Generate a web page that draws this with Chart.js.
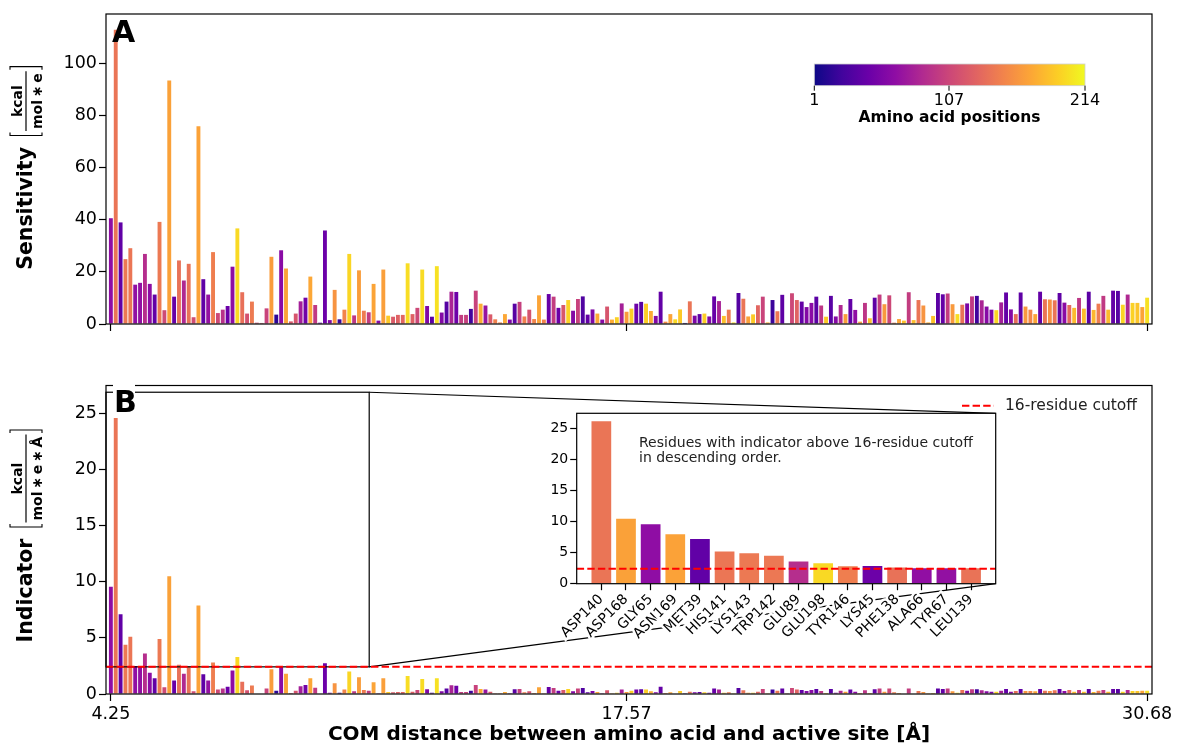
<!DOCTYPE html>
<html>
<head>
<meta charset="utf-8">
<script src="https://cdn.jsdelivr.net/npm/chart.js@4.4.1/dist/chart.umd.min.js"></script>
<style>
  body { margin: 0; background: #fff; }
  #wrap { position: relative; width: 1177px; height: 744px; overflow: hidden; }
  canvas { position: absolute; }
</style>
</head>
<body>
<div id="wrap">
  <canvas id="chartA" width="1177" height="360" style="left:0;top:0"></canvas>
  <canvas id="chartB" width="1177" height="384" style="left:0;top:360px"></canvas>
  <canvas id="chartInset" width="480" height="250" style="left:520px;top:405px"></canvas>
</div>
<script>
// x axis: residues sorted by COM distance, only three distances are labelled
const xTickIdx = [0, 106, 213];
const xTickLabels = ["4.25", "17.57", "30.68"];
const yTicksA = [0, 20, 40, 60, 80, 100];
const yTicksB = [0, 5, 10, 15, 20, 25];
const cutoff = 2.42;

// amino acid position of each bar (drives the colour)
const positions = [
  65, 140, 39, 142, 141, 66, 67, 89, 63, 40,
  143, 110, 168, 42, 138, 85, 139, 112, 169, 38,
  68, 146, 108, 92, 44, 64, 198, 137, 115, 144,
  110, 120, 105, 165, 14, 62, 170, 120, 118, 78,
  48, 172, 98, 40, 45, 58, 160, 20, 150, 196,
  96, 166, 145, 100, 170, 60, 167, 190, 122, 127,
  130, 200, 126, 108, 199, 56, 36, 202, 58, 33,
  82, 46, 100, 102, 22, 104, 175, 70, 122, 148,
  150, 172, 55, 34, 102, 147, 116, 150, 170, 150,
  42, 100, 44, 120, 195, 58, 104, 30, 40, 55,
  172, 60, 118, 174, 194, 78, 165, 192, 45, 34,
  192, 175, 58, 40, 155, 170, 198, 190, 12, 140,
  54, 38, 192, 56, 42, 80, 186, 145, 200, 32,
  140, 168, 190, 130, 105, 175, 20, 142, 38, 120,
  108, 128, 40, 58, 62, 36, 96, 190, 35, 60,
  85, 166, 40, 65, 165, 95, 185, 38, 100, 163,
  108, 146, 170, 186, 100, 184, 140, 160, 175, 186,
  36, 40, 100, 164, 200, 138, 52, 98, 22, 82,
  60, 54, 196, 78, 40, 60, 136, 38, 162, 152,
  170, 40, 140, 158, 140, 38, 62, 132, 182, 95,
  184, 36, 180, 145, 98, 182, 40, 34, 196, 85,
  194, 188, 170, 202
];

// panel A: sensitivity [kcal/(mol*e)]
const sensitivity = [
  40.6, 113, 39, 24.9, 29.1, 15.1, 15.8, 26.9, 15.4, 11.3,
  39.2, 5.3, 93.5, 10.5, 24.4, 16.7, 23.1, 2.6, 75.9, 17.2,
  11.3, 27.6, 4.2, 5.5, 6.9, 22, 36.7, 12.2, 4, 8.6,
  0.5, 0.4, 6, 25.8, 3.6, 28.3, 21.3, 1, 4, 8.7,
  10.1, 18.2, 7.3, 0.5, 35.9, 1.5, 13.1, 1.8, 5.5, 26.9,
  3.3, 20.6, 5.1, 4.5, 15.4, 1.3, 20.9, 3.2, 2.8, 3.5,
  3.5, 23.3, 3.8, 6.2, 20.9, 6.9, 2.8, 22.2, 4.4, 8.6,
  12.4, 12.3, 3.5, 3.5, 5.8, 12.8, 7.8, 7.1, 3.7, 1.8,
  0.6, 3.8, 1.7, 7.8, 8.5, 2.9, 5.5, 1.9, 11, 1.7,
  11.5, 10.5, 6.2, 7.3, 9.2, 5.1, 9.6, 10.6, 3.6, 5.6,
  4, 1.7, 6.7, 1.7, 2.6, 7.9, 4.7, 5.9, 7.8, 8.5,
  7.8, 5, 3.1, 12.4, 0.9, 3.8, 1.8, 5.6, 0.4, 8.7,
  3.2, 3.8, 4, 2.9, 10.6, 8.8, 3.1, 5.5, 0.6, 11.9,
  9.7, 2.9, 3.7, 7.2, 10.5, 0.6, 9.2, 4.9, 11.2, 0.2,
  11.8, 9.2, 8.6, 6.5, 8.1, 10.5, 7.1, 2.8, 10.8, 2.9,
  7.3, 3.8, 9.6, 5.4, 0.9, 8.1, 2.2, 10.1, 11.3, 7.6,
  11, 0.5, 1.9, 1.3, 12.2, 1.5, 9.2, 7.1, 0.6, 3.1,
  11.9, 11.4, 11.7, 7.6, 3.8, 7.4, 7.9, 10.6, 10.8, 9.1,
  6.7, 5.5, 5.3, 8.3, 12.1, 5.6, 3.8, 12.1, 6.7, 5.5,
  3.8, 12.4, 9.5, 9.4, 9.1, 11.9, 8.2, 7.3, 6.2, 10,
  5.9, 12.4, 5.4, 7.8, 10.8, 5.5, 12.8, 12.7, 7.4, 11.3,
  8.1, 8.1, 6.5, 10.1
];

// panel B: indicator [kcal/(mol*e*Å)]
const indicator = [
  9.55, 24.6, 7.1, 4.4, 5.1, 2.5, 2.5, 3.6, 1.9, 1.4,
  4.9, 0.6, 10.5, 1.2, 2.6, 1.8, 2.5, 0.25, 7.9, 1.75,
  1.2, 2.8, 0.4, 0.5, 0.65, 2.1, 3.3, 1.1, 0.33, 0.75,
  0.05, 0.04, 0.5, 2.2, 0.3, 2.4, 1.8, 0.1, 0.3, 0.7,
  0.8, 1.4, 0.55, 0.05, 2.75, 0.12, 0.95, 0.12, 0.4, 2.0,
  0.24, 1.5, 0.36, 0.3, 1.04, 0.06, 1.4, 0.18, 0.15, 0.18,
  0.18, 1.6, 0.2, 0.36, 1.34, 0.42, 0.12, 1.4, 0.24, 0.5,
  0.77, 0.74, 0.18, 0.18, 0.3, 0.8, 0.45, 0.39, 0.2, 0.06,
  0.02, 0.18, 0.06, 0.42, 0.45, 0.15, 0.24, 0.09, 0.6, 0.06,
  0.62, 0.54, 0.3, 0.36, 0.45, 0.24, 0.48, 0.54, 0.15, 0.27,
  0.18, 0.06, 0.33, 0.06, 0.12, 0.39, 0.18, 0.28, 0.39, 0.42,
  0.39, 0.24, 0.15, 0.65, 0.09, 0.15, 0.05, 0.27, 0.02, 0.21,
  0.15, 0.18, 0.15, 0.12, 0.5, 0.39, 0.12, 0.15, 0.03, 0.54,
  0.33, 0.12, 0.12, 0.21, 0.45, 0.03, 0.39, 0.3, 0.48, 0.02,
  0.54, 0.39, 0.36, 0.27, 0.36, 0.45, 0.27, 0.09, 0.45, 0.12,
  0.3, 0.21, 0.39, 0.21, 0.1, 0.33, 0.09, 0.42, 0.48, 0.21,
  0.48, 0.15, 0.08, 0.05, 0.5, 0.05, 0.27, 0.18, 0.02, 0.09,
  0.48, 0.45, 0.48, 0.24, 0.12, 0.36, 0.3, 0.42, 0.42, 0.33,
  0.24, 0.21, 0.21, 0.3, 0.45, 0.21, 0.27, 0.45, 0.27, 0.27,
  0.24, 0.45, 0.3, 0.27, 0.33, 0.45, 0.27, 0.36, 0.21, 0.36,
  0.21, 0.45, 0.18, 0.3, 0.36, 0.21, 0.45, 0.45, 0.21, 0.36,
  0.27, 0.27, 0.3, 0.3
];

// inset: residues above the cutoff, descending
const insetResidues = ["ASP140", "ASP168", "GLY65", "ASN169", "MET39", "HIS141", "LYS143", "TRP142",
  "GLU89", "GLU198", "TYR146", "LYS45", "PHE138", "ALA66", "TYR67", "LEU139"];
const insetValues = [26.2, 10.5, 9.6, 8.0, 7.2, 5.2, 4.9, 4.5, 3.6, 3.3, 2.8, 2.85, 2.6, 2.5, 2.5, 2.5];
const insetPositions = [140, 168, 65, 169, 39, 141, 143, 142, 89, 198, 146, 45, 138, 66, 67, 139];
const insetTicks = [0, 5, 10, 15, 20, 25];

// plasma colormap
const plasmaStops = ["#0d0887", "#41049d", "#6a00a8", "#8f0da4", "#b12a90", "#cc4778",
  "#e16462", "#f2844b", "#fca636", "#fcce25", "#f0f921"];
function hexRgb(h) {
  return [parseInt(h.slice(1, 3), 16), parseInt(h.slice(3, 5), 16), parseInt(h.slice(5, 7), 16)];
}
function plasma(t) {
  t = Math.min(1, Math.max(0, t));
  const s = t * 10, i = Math.min(9, Math.floor(s)), f = s - i;
  const a = hexRgb(plasmaStops[i]), b = hexRgb(plasmaStops[i + 1]);
  const c = a.map((v, k) => Math.round(v + (b[k] - v) * f));
  return `rgb(${c[0]},${c[1]},${c[2]})`;
}
const posColor = p => plasma((p - 1) / 213);

const FONT = "'DejaVu Sans', sans-serif";
Chart.defaults.font.family = FONT;
Chart.defaults.color = "#000";
Chart.defaults.animation = false;

function axisX(showLabels, height) {
  return {
    type: "linear", min: -1, max: 214, offset: false,
    afterBuildTicks: s => { s.ticks = xTickIdx.map(v => ({ value: v })); },
    afterFit: s => { s.height = height; s.paddingLeft = 0; s.paddingRight = 0; },
    grid: { drawOnChartArea: false, offset: false, tickLength: 7, tickWidth: 1.2, tickColor: "#000" },
    border: { display: false },
    ticks: {
      autoSkip: false, maxRotation: 0, padding: 3, font: { size: 17.5 },
      callback: v => showLabels ? xTickLabels[xTickIdx.indexOf(v)] : ""
    }
  };
}

function axisY(max, ticks, width, size, tickLen) {
  return {
    min: 0, max: max,
    afterBuildTicks: s => { s.ticks = ticks.map(v => ({ value: v })); },
    afterFit: s => { s.width = width; s.paddingTop = 0; s.paddingBottom = 0; },
    grid: { drawOnChartArea: false, tickLength: tickLen, tickWidth: 1.2, tickColor: "#000" },
    border: { display: false },
    ticks: { padding: 2, font: { size: size } }
  };
}

function drawSpines(ctx, a) {
  ctx.save();
  ctx.strokeStyle = "#000";
  ctx.lineWidth = 1.2;
  ctx.strokeRect(a.left, a.top, a.right - a.left, a.bottom - a.top);
  ctx.restore();
}

// rotated y label: bold word followed by [num / den]
function drawYLabel(ctx, cx, cy, word, num, den) {
  ctx.save();
  ctx.translate(cx, cy);
  ctx.rotate(-Math.PI / 2);
  ctx.fillStyle = "#000";
  ctx.strokeStyle = "#000";
  ctx.font = "bold 20.5px " + FONT;
  const ww = ctx.measureText(word).width;
  ctx.font = "bold 14px " + FONT;
  const fw = Math.max(ctx.measureText(num).width, ctx.measureText(den).width) + 4;
  const gap = 11, bw = 5;
  const total = ww + gap + bw + fw + bw;
  let x = -total / 2;
  ctx.font = "bold 20.5px " + FONT;
  ctx.textBaseline = "alphabetic";
  ctx.fillText(word, x, 0);
  x += ww + gap;
  const yTop = -22, yBot = 10;
  ctx.lineWidth = 1.1;
  ctx.beginPath();
  ctx.moveTo(x + 3.5, yTop); ctx.lineTo(x + 0.5, yTop); ctx.lineTo(x + 0.5, yBot); ctx.lineTo(x + 3.5, yBot);
  const xr = x + bw + fw + bw;
  ctx.moveTo(xr - 3.5, yTop); ctx.lineTo(xr - 0.5, yTop); ctx.lineTo(xr - 0.5, yBot); ctx.lineTo(xr - 3.5, yBot);
  ctx.stroke();
  const fc = x + bw + fw / 2;
  ctx.lineWidth = 1.2;
  ctx.beginPath();
  ctx.moveTo(x + bw, -6); ctx.lineTo(x + bw + fw, -6);
  ctx.stroke();
  ctx.font = "bold 14px " + FONT;
  ctx.textAlign = "center";
  ctx.fillText(num, fc, -10);
  ctx.fillText(den, fc, 9.5);
  ctx.restore();
}

function barData(values) {
  return values.map((v, i) => ({ x: i, y: v }));
}

// ---------- inset ----------
const insetChart = new Chart(document.getElementById("chartInset"), {
  type: "bar",
  data: {
    datasets: [{
      data: insetValues.map((v, i) => ({ x: i, y: v })),
      backgroundColor: insetPositions.map(posColor),
      barPercentage: 0.8, categoryPercentage: 1.0, borderWidth: 0
    }]
  },
  options: {
    responsive: false,
    layout: { padding: { left: 0, top: 8.3, right: 4.3, bottom: 0 } },
    plugins: { legend: { display: false }, tooltip: { enabled: false } },
    scales: {
      x: {
        type: "linear", min: -1, max: 16, offset: false,
        afterBuildTicks: s => { s.ticks = insetResidues.map((r, i) => ({ value: i })); },
        afterFit: s => { s.height = 71.3; s.paddingLeft = 0; s.paddingRight = 0; },
        grid: { drawOnChartArea: false, offset: false, tickLength: 6.5, tickWidth: 1.2, tickColor: "#000" },
        border: { display: false },
        ticks: {
          autoSkip: false, minRotation: 45, maxRotation: 45, padding: 1, font: { size: 14 },
          textStrokeColor: "#fff", textStrokeWidth: 5,
          callback: v => insetResidues[v]
        }
      },
      y: axisY(27.5, insetTicks, 56.7, 14, 6.5)
    }
  },
  plugins: [{
    id: "insetDecor",
    beforeDraw(chart) {
      const { ctx, chartArea: a } = chart;
      ctx.save();
      ctx.fillStyle = "#fff";
      ctx.fillRect(a.left, a.top, a.right - a.left, a.bottom - a.top);
      ctx.restore();
    },
    afterDraw(chart) {
      const { ctx, chartArea: a } = chart;
      const yc = chart.scales.y.getPixelForValue(cutoff);
      ctx.save();
      ctx.strokeStyle = "#ff0000";
      ctx.lineWidth = 2;
      ctx.setLineDash([7.4, 3.2]);
      ctx.beginPath(); ctx.moveTo(a.left, yc); ctx.lineTo(a.right, yc); ctx.stroke();
      ctx.restore();
      ctx.save();
      ctx.fillStyle = "#222";
      ctx.font = "14px " + FONT;
      ctx.fillText("Residues with indicator above 16-residue cutoff", 119, 41.7);
      ctx.fillText("in descending order.", 119, 57.3);
      ctx.restore();
      drawSpines(ctx, a);
    }
  }]
});

const insetCanvasLeft = 520, insetCanvasTop = 405, bTop = 360;

// ---------- panel A ----------
new Chart(document.getElementById("chartA"), {
  type: "bar",
  data: {
    datasets: [{
      data: barData(sensitivity),
      backgroundColor: positions.map(posColor),
      barPercentage: 0.8, categoryPercentage: 1.0, borderWidth: 0
    }]
  },
  options: {
    responsive: false,
    layout: { padding: { left: 0, top: 14, right: 25, bottom: 0 } },
    plugins: { legend: { display: false }, tooltip: { enabled: false } },
    scales: {
      x: axisX(false, 36),
      y: axisY(119, yTicksA, 106, 17.5, 7)
    }
  },
  plugins: [{
    id: "decorA",
    afterDraw(chart) {
      const { ctx, chartArea: a } = chart;
      drawSpines(ctx, a);
      ctx.save();
      ctx.fillStyle = "#000";
      ctx.font = "bold 30px " + FONT;
      ctx.fillText("A", 112, 41.5);
      // colour bar
      const cbL = 814.3, cbR = 1085, cbT = 64, cbB = 85.7;
      const g = ctx.createLinearGradient(cbL, 0, cbR, 0);
      plasmaStops.forEach((c, i) => g.addColorStop(i / 10, c));
      ctx.fillStyle = g;
      ctx.fillRect(cbL, cbT, cbR - cbL, cbB - cbT);
      ctx.strokeStyle = "#cfcfcf";
      ctx.lineWidth = 0.8;
      ctx.strokeRect(cbL, cbT, cbR - cbL, cbB - cbT);
      ctx.strokeStyle = "#000";
      ctx.lineWidth = 1;
      ctx.fillStyle = "#000";
      ctx.font = "16px " + FONT;
      ctx.textAlign = "center";
      ctx.textBaseline = "alphabetic";
      [[1, "1"], [107, "107"], [214, "214"]].forEach(([p, t]) => {
        const x = cbL + (p - 1) / 213 * (cbR - cbL);
        ctx.beginPath(); ctx.moveTo(x, cbB); ctx.lineTo(x, cbB + 5); ctx.stroke();
        ctx.fillText(t, x, 105);
      });
      ctx.font = "bold 15.5px " + FONT;
      ctx.fillText("Amino acid positions", 949.5, 122);
      ctx.restore();
      drawYLabel(ctx, 32, 168, "Sensitivity", "kcal", "mol\u2009\u2217\u2009e");
    }
  }]
});

// ---------- panel B ----------
new Chart(document.getElementById("chartB"), {
  type: "bar",
  data: {
    datasets: [{
      data: barData(indicator),
      backgroundColor: positions.map(posColor),
      barPercentage: 0.8, categoryPercentage: 1.0, borderWidth: 0
    }]
  },
  options: {
    responsive: false,
    layout: { padding: { left: 0, top: 25.5, right: 25, bottom: 0 } },
    plugins: { legend: { display: false }, tooltip: { enabled: false } },
    scales: {
      x: axisX(true, 50),
      y: axisY(27.5, yTicksB, 106, 17.5, 7)
    }
  },
  plugins: [{
    id: "decorB",
    afterDraw(chart) {
      const { ctx, chartArea: a, scales } = chart;
      const xs = scales.x, ys = scales.y;
      const ia = insetChart.chartArea;
      const insR = insetCanvasLeft + ia.right;
      const insT = insetCanvasTop + ia.top - bTop;
      const insB = insetCanvasTop + ia.bottom - bTop;
      const rL = xs.getPixelForValue(-1), rR = xs.getPixelForValue(53.1);
      const rT = ys.getPixelForValue(26.9), rB = ys.getPixelForValue(cutoff);
      ctx.save();
      ctx.strokeStyle = "#000";
      ctx.lineWidth = 1.2;
      ctx.strokeRect(rL, rT, rR - rL, rB - rT);
      ctx.beginPath();
      ctx.moveTo(rR, rT); ctx.lineTo(insR, insT);
      ctx.moveTo(rR, rB); ctx.lineTo(insR, insB);
      ctx.stroke();
      // cutoff line
      ctx.strokeStyle = "#ff0000";
      ctx.lineWidth = 2;
      ctx.setLineDash([7.4, 3.2]);
      ctx.beginPath(); ctx.moveTo(a.left, rB); ctx.lineTo(a.right, rB); ctx.stroke();
      // legend
      ctx.beginPath(); ctx.moveTo(962, 45.7); ctx.lineTo(994, 45.7); ctx.stroke();
      ctx.restore();
      drawSpines(ctx, a);
      ctx.save();
      ctx.fillStyle = "#fff";
      ctx.fillRect(113, a.top - 1.5, 22, 28);
      ctx.fillStyle = "#000";
      ctx.font = "bold 30px " + FONT;
      ctx.fillText("B", 114, 52);
      ctx.font = "15.5px " + FONT;
      ctx.fillStyle = "#222";
      ctx.textBaseline = "middle";
      ctx.fillText("16-residue cutoff", 1005, 45.7);
      ctx.textBaseline = "alphabetic";
      ctx.textAlign = "center";
      ctx.fillStyle = "#000";
      ctx.font = "bold 20px " + FONT;
      ctx.fillText("COM distance between amino acid and active site [Å]", (a.left + a.right) / 2, 380);
      ctx.restore();
      drawYLabel(ctx, 32, 176, "Indicator", "kcal", "mol\u2009\u2217\u2009e\u2009\u2217\u2009Å");
    }
  }]
});
</script>
</body>
</html>
